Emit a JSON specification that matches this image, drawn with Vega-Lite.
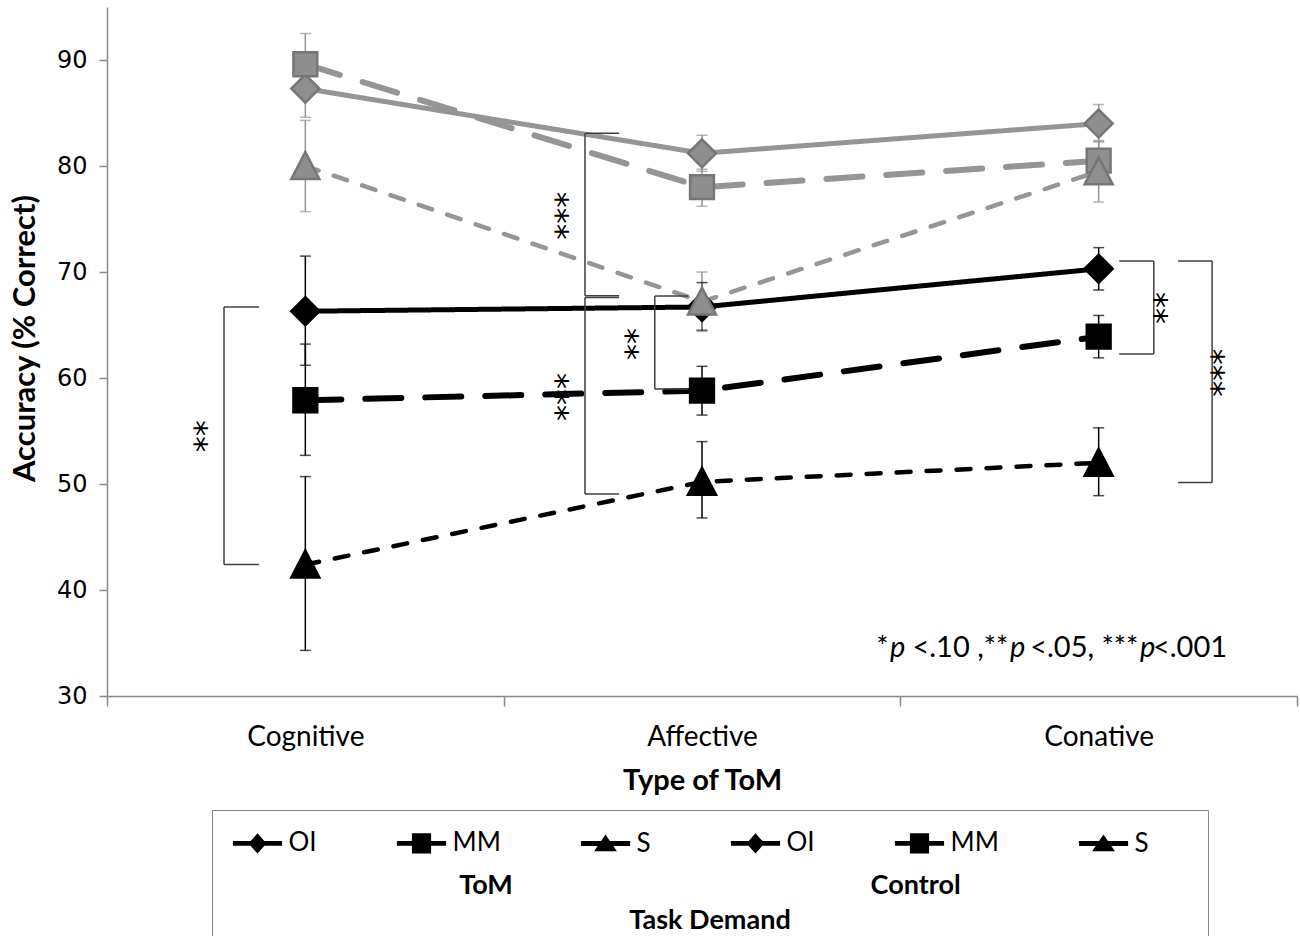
{
  "$schema": "https://vega.github.io/schema/vega-lite/v6.json",
  "width": 1190,
  "height": 689,
  "autosize": {"type": "none"},
  "padding": {"left": 107, "top": 7, "right": 3, "bottom": 240},
  "config": {
    "view": {"stroke": null},
    "font": "Lato",
    "axis": {"grid": false, "domainColor": "#888888", "tickColor": "#888888", "domainWidth": 1.5, "tickWidth": 1.5}
  },
  "resolve": {"scale": {"shape": "independent"}},
  "datasets": {
    "pts": [
      {"task": "Cognitive", "pos": 1, "group": "ToM", "demand": "OI", "series": "ToM OI", "mean": 66.3, "lo": 61.2, "hi": 71.5},
      {"task": "Affective", "pos": 2, "group": "ToM", "demand": "OI", "series": "ToM OI", "mean": 66.7, "lo": 64.5, "hi": 69.0},
      {"task": "Conative", "pos": 3, "group": "ToM", "demand": "OI", "series": "ToM OI", "mean": 70.3, "lo": 68.3, "hi": 72.3},
      {"task": "Cognitive", "pos": 1, "group": "ToM", "demand": "MM", "series": "ToM MM", "mean": 57.9, "lo": 52.7, "hi": 63.2},
      {"task": "Affective", "pos": 2, "group": "ToM", "demand": "MM", "series": "ToM MM", "mean": 58.8, "lo": 56.5, "hi": 61.1},
      {"task": "Conative", "pos": 3, "group": "ToM", "demand": "MM", "series": "ToM MM", "mean": 63.9, "lo": 61.9, "hi": 65.9},
      {"task": "Cognitive", "pos": 1, "group": "ToM", "demand": "S", "series": "ToM S", "mean": 42.4, "lo": 34.3, "hi": 50.7},
      {"task": "Affective", "pos": 2, "group": "ToM", "demand": "S", "series": "ToM S", "mean": 50.2, "lo": 46.8, "hi": 54.0},
      {"task": "Conative", "pos": 3, "group": "ToM", "demand": "S", "series": "ToM S", "mean": 52.0, "lo": 48.9, "hi": 55.3},
      {"task": "Cognitive", "pos": 1, "group": "Control", "demand": "OI", "series": "Control OI", "mean": 87.3, "lo": 84.6, "hi": 90.1},
      {"task": "Affective", "pos": 2, "group": "Control", "demand": "OI", "series": "Control OI", "mean": 81.2, "lo": 79.5, "hi": 82.9},
      {"task": "Conative", "pos": 3, "group": "Control", "demand": "OI", "series": "Control OI", "mean": 84.0, "lo": 82.3, "hi": 85.8},
      {"task": "Cognitive", "pos": 1, "group": "Control", "demand": "MM", "series": "Control MM", "mean": 89.6, "lo": 86.7, "hi": 92.5},
      {"task": "Affective", "pos": 2, "group": "Control", "demand": "MM", "series": "Control MM", "mean": 78.0, "lo": 76.2, "hi": 79.7},
      {"task": "Conative", "pos": 3, "group": "Control", "demand": "MM", "series": "Control MM", "mean": 80.5, "lo": 78.7, "hi": 82.3},
      {"task": "Cognitive", "pos": 1, "group": "Control", "demand": "S", "series": "Control S", "mean": 80.0, "lo": 75.7, "hi": 84.3},
      {"task": "Affective", "pos": 2, "group": "Control", "demand": "S", "series": "Control S", "mean": 67.2, "lo": 64.4, "hi": 70.0},
      {"task": "Conative", "pos": 3, "group": "Control", "demand": "S", "series": "Control S", "mean": 79.5, "lo": 76.6, "hi": 82.4}
    ],
    "segs": [
      {"x": 0.795, "x2": 0.795, "y": 66.7, "y2": 42.4},
      {"x": 0.795, "x2": 0.883, "y": 66.7, "y2": 66.7},
      {"x": 0.795, "x2": 0.883, "y": 42.4, "y2": 42.4},
      {"x": 1.705, "x2": 1.705, "y": 83.1, "y2": 67.75},
      {"x": 1.705, "x2": 1.791, "y": 83.1, "y2": 83.1},
      {"x": 1.705, "x2": 1.791, "y": 67.75, "y2": 67.75},
      {"x": 1.705, "x2": 1.705, "y": 67.6, "y2": 49.06},
      {"x": 1.705, "x2": 1.791, "y": 67.6, "y2": 67.6},
      {"x": 1.705, "x2": 1.791, "y": 49.06, "y2": 49.06},
      {"x": 1.881, "x2": 1.881, "y": 67.74, "y2": 58.96},
      {"x": 1.881, "x2": 1.965, "y": 67.74, "y2": 67.74},
      {"x": 1.881, "x2": 1.965, "y": 58.96, "y2": 58.96},
      {"x": 3.139, "x2": 3.139, "y": 71.04, "y2": 62.26},
      {"x": 3.052, "x2": 3.139, "y": 71.04, "y2": 71.04},
      {"x": 3.052, "x2": 3.139, "y": 62.26, "y2": 62.26},
      {"x": 3.286, "x2": 3.286, "y": 71.04, "y2": 50.15},
      {"x": 3.2, "x2": 3.286, "y": 71.04, "y2": 71.04},
      {"x": 3.2, "x2": 3.286, "y": 50.15, "y2": 50.15}
    ],
    "stars": [
      {"x": 0.741, "y": 54.5, "label": "**"},
      {"x": 1.652, "y": 75.3, "label": "***"},
      {"x": 1.652, "y": 58.2, "label": "***"},
      {"x": 1.828, "y": 63.2, "label": "**"},
      {"x": 3.161, "y": 66.6, "label": "**"},
      {"x": 3.307, "y": 60.5, "label": "***"}
    ],
    "note": [
      {"x": 2.4705, "y": 34.5, "text": "*", "style": "normal", "anchor": "end"},
      {"x": 2.4738, "y": 34.5, "text": "p", "style": "italic", "anchor": "start"},
      {"x": 2.7725, "y": 34.5, "text": "<.10 ,**", "style": "normal", "anchor": "end"},
      {"x": 2.7763, "y": 34.5, "text": "p", "style": "italic", "anchor": "start"},
      {"x": 3.1003, "y": 34.5, "text": "<.05, ***", "style": "normal", "anchor": "end"},
      {"x": 3.104, "y": 34.5, "text": "p", "style": "italic", "anchor": "start"},
      {"x": 3.1368, "y": 34.5, "text": "<.001", "style": "normal", "anchor": "start"}
    ]
  },
  "layer": [
    {
      "data": {"name": "pts"},
      "mark": {"type": "line", "strokeCap": "round"},
      "encoding": {
        "x": {"field": "pos", "type": "quantitative",
          "scale": {"domain": [0.5, 3.5], "nice": false, "zero": false},
          "axis": {
            "values": [0.5, 1, 1.5, 2, 2.5, 3, 3.5],
            "labelExpr": "datum.value == 1 ? 'Cognitive' : datum.value == 2 ? 'Affective' : datum.value == 3 ? 'Conative' : ''",
            "tickOpacity": {"condition": {"test": "datum.value % 1 != 0", "value": 1}, "value": 0},
            "tickSize": 10,
            "labelFont": "Lato", "labelFontSize": 28, "labelColor": "#000000", "labelPadding": 17,
            "labelOverlap": false, "labelFlush": false,
            "title": "Type of ToM", "titleFont": "Lato", "titleFontWeight": "bold", "titleFontSize": 29, "titleColor": "#000000", "titlePadding": 15
          }
        },
        "y": {"field": "mean", "type": "quantitative",
          "scale": {"domain": [30, 95], "nice": false, "zero": false},
          "axis": {
            "values": [30, 40, 50, 60, 70, 80, 90],
            "tickSize": 8, "labelPadding": 12,
            "labelFont": "DejaVu Sans", "labelFontSize": 24, "labelColor": "#000000",
            "title": "Accuracy (% Correct)", "titleFont": "Lato", "titleFontWeight": "bold", "titleFontSize": 31, "titleColor": "#000000", "titlePadding": 15, "titleY": 331
          }
        },
        "detail": {"field": "series"},
        "order": {"field": "pos"},
        "color": {"field": "group", "type": "nominal", "scale": {"domain": ["ToM", "Control"], "range": ["#000000", "#959595"]}, "legend": null},
        "strokeDash": {"field": "demand", "type": "nominal", "scale": {"domain": ["OI", "MM", "S"], "range": [[1, 0], [36, 24], [14, 16]]}, "legend": null},
        "strokeWidth": {"field": "demand", "type": "nominal", "scale": {"type": "ordinal", "domain": ["OI", "MM", "S"], "range": [5, 6, 4.5]}, "legend": null}
      }
    },
    {
      "data": {"name": "pts"},
      "mark": {"type": "rule", "strokeWidth": 1.5},
      "encoding": {
        "x": {"field": "pos", "type": "quantitative"},
        "y": {"field": "lo", "type": "quantitative"},
        "y2": {"field": "hi"},
        "color": {"field": "group", "type": "nominal", "legend": null}
      }
    },
    {
      "data": {"name": "pts"},
      "mark": {"type": "tick", "orient": "horizontal", "size": 11, "thickness": 1.5},
      "encoding": {
        "x": {"field": "pos", "type": "quantitative"},
        "y": {"field": "lo", "type": "quantitative"},
        "color": {"field": "group", "type": "nominal", "legend": null}
      }
    },
    {
      "data": {"name": "pts"},
      "mark": {"type": "tick", "orient": "horizontal", "size": 11, "thickness": 1.5},
      "encoding": {
        "x": {"field": "pos", "type": "quantitative"},
        "y": {"field": "hi", "type": "quantitative"},
        "color": {"field": "group", "type": "nominal", "legend": null}
      }
    },
    {
      "data": {"name": "pts"},
      "mark": {"type": "point", "filled": true, "size": 576, "strokeWidth": 1.5, "opacity": 0},
      "encoding": {
        "x": {"field": "pos", "type": "quantitative"},
        "y": {"field": "mean", "type": "quantitative"},
        "shape": {"field": "series", "type": "nominal",
          "scale": {"domain": ["ToM OI", "ToM MM", "ToM S", "Control OI", "Control MM", "Control S"],
            "range": [
              "M-2.05,-0.2H2.05V0.2H-2.05Z M0,-0.85L0.75,0L0,0.85L-0.75,0Z",
              "M-2.05,-0.2H2.05V0.2H-2.05Z M-0.8,-0.85H0.8V0.85H-0.8Z",
              "M-2.05,-0.2H2.05V0.2H-2.05Z M0,-0.75L0.95,0.65H-0.95Z",
              "M-2.05,-0.2H2.05V0.2H-2.05Z M0,-0.85L0.75,0L0,0.85L-0.75,0Z",
              "M-2.05,-0.2H2.05V0.2H-2.05Z M-0.8,-0.85H0.8V0.85H-0.8Z",
              "M-2.05,-0.2H2.05V0.2H-2.05Z M0,-0.75L0.95,0.65H-0.95Z"
            ]},
          "legend": {
            "orient": "none", "legendX": 105, "legendY": 803,
            "direction": "horizontal", "columns": 6, "columnPadding": 76, "gridAlign": "each",
            "padding": 20, "strokeColor": "#888888", "fillColor": "#ffffff",
            "symbolSize": 576, "symbolOffset": 12.5, "symbolStrokeWidth": 1.5, "symbolOpacity": 1, "labelOffset": 18,
            "labelFont": "Lato", "labelFontSize": 26, "labelColor": "#000000", "labelLimit": 300,
            "labelExpr": "datum.value == 'Control S' ? 'S\u2003\u2003\u200b' : replace(replace(datum.label, 'ToM ', ''), 'Control ', '')",
            "title": ["ToM\u2003\u2003\u2003\u2003\u2003\u2003\u2003\u2003\u2003\u2003\u2003\u2003\u2003\u2003\u2003\u2003\u2003\u2002Control", "Task Demand"],
            "titleOrient": "bottom", "titleAnchor": "middle", "titleAlign": "center", "titleBaseline": "top",
            "titleFont": "Lato", "titleFontWeight": "bold", "titleFontSize": 27, "titleColor": "#000000", "titleLineHeight": 35, "titlePadding": 16, "titleLimit": 1000
          }
        },
        "fill": {"field": "series", "type": "nominal", "legend": null,
          "scale": {"domain": ["ToM OI", "ToM MM", "ToM S", "Control OI", "Control MM", "Control S"],
            "range": ["#000000", "#000000", "#000000", "#8e8e8e", "#8e8e8e", "#8e8e8e"]}},
        "stroke": {"field": "series", "type": "nominal", "legend": null,
          "scale": {"domain": ["ToM OI", "ToM MM", "ToM S", "Control OI", "Control MM", "Control S"],
            "range": ["#000000", "#000000", "#000000", "#767676", "#767676", "#767676"]}}
      }
    },
    {
      "data": {"name": "pts"},
      "mark": {"type": "point", "filled": true, "size": 784, "strokeWidth": 2.5, "opacity": 1},
      "encoding": {
        "x": {"field": "pos", "type": "quantitative"},
        "y": {"field": "mean", "type": "quantitative"},
        "shape": {"field": "demand", "type": "nominal", "legend": null,
          "scale": {"domain": ["OI", "MM", "S"],
            "range": ["M0,-1L1,0L0,1L-1,0Z", "M-0.85,-0.85H0.85V0.85H-0.85Z", "M0,-1L1,0.92H-1Z"]}},
        "fill": {"field": "series", "type": "nominal", "legend": null},
        "stroke": {"field": "series", "type": "nominal", "legend": null}
      }
    },
    {
      "data": {"name": "segs"},
      "mark": {"type": "rule", "color": "#404040", "strokeWidth": 1.5},
      "encoding": {
        "x": {"field": "x", "type": "quantitative"},
        "x2": {"field": "x2"},
        "y": {"field": "y", "type": "quantitative"},
        "y2": {"field": "y2"}
      }
    },
    {
      "data": {"name": "stars"},
      "mark": {"type": "text", "angle": 90, "align": "center", "baseline": "middle", "font": "DejaVu Sans", "fontSize": 32, "dy": 8, "color": "#000000"},
      "encoding": {
        "x": {"field": "x", "type": "quantitative"},
        "y": {"field": "y", "type": "quantitative"},
        "text": {"field": "label"}
      }
    },
    {
      "data": {"name": "note"},
      "transform": [{"filter": "datum.style == 'normal' && datum.anchor == 'end'"}],
      "mark": {"type": "text", "align": "right", "baseline": "middle", "font": "Lato", "fontSize": 29, "color": "#000000"},
      "encoding": {
        "x": {"field": "x", "type": "quantitative"},
        "y": {"field": "y", "type": "quantitative"},
        "text": {"field": "text"}
      }
    },
    {
      "data": {"name": "note"},
      "transform": [{"filter": "datum.style == 'normal' && datum.anchor == 'start'"}],
      "mark": {"type": "text", "align": "left", "baseline": "middle", "font": "Lato", "fontSize": 29, "color": "#000000"},
      "encoding": {
        "x": {"field": "x", "type": "quantitative"},
        "y": {"field": "y", "type": "quantitative"},
        "text": {"field": "text"}
      }
    },
    {
      "data": {"name": "note"},
      "transform": [{"filter": "datum.style == 'italic'"}],
      "mark": {"type": "text", "align": "left", "baseline": "middle", "font": "Lato", "fontStyle": "italic", "fontSize": 29, "color": "#000000"},
      "encoding": {
        "x": {"field": "x", "type": "quantitative"},
        "y": {"field": "y", "type": "quantitative"},
        "text": {"field": "text"}
      }
    }
  ]
}
